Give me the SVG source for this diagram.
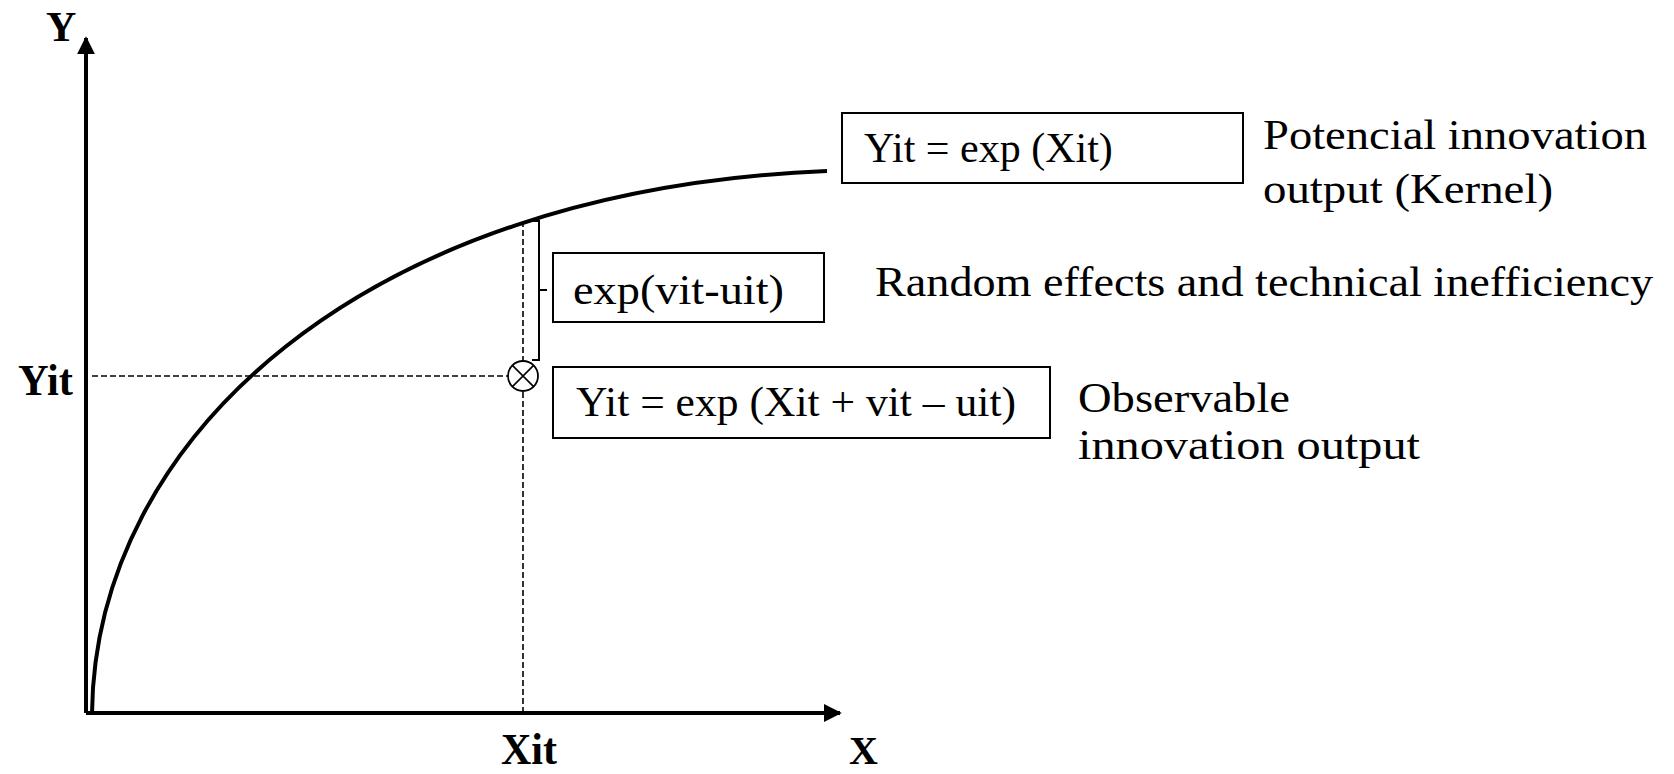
<svg xmlns="http://www.w3.org/2000/svg" width="1674" height="774" viewBox="0 0 1674 774">
<style>
.lbl{font-family:"Liberation Serif","Times New Roman",serif;font-weight:bold;fill:#000}
.txt{font-family:"Liberation Serif","Times New Roman",serif;font-size:42px;fill:#000}
.box{fill:#fff;stroke:#000;stroke-width:2}
.axis{stroke:#000;stroke-width:4;fill:none}
.dash{stroke:#000;stroke-width:1.6;stroke-dasharray:6 3;fill:none}
</style>
<defs>
<marker id="arr" viewBox="0 0 10 10" refX="9" refY="5" markerWidth="4.5" markerHeight="4.5" orient="auto" markerUnits="strokeWidth">
<path d="M0,0 L10,5 L0,10 Z" fill="#000"/>
</marker>
</defs>
<rect width="1674" height="774" fill="#fff"/>
<g id="connectors">
<line class="dash" x1="92" y1="376" x2="508" y2="376"/>
<line class="dash" x1="523" y1="221" x2="523" y2="711"/>
<line class="axis" x1="86" y1="713" x2="86" y2="38" marker-end="url(#arr)"/>
<line class="axis" x1="86" y1="713" x2="840" y2="713" marker-end="url(#arr)"/>
<path class="axis" d="M92,713 C95,440 360,190 827,171"/>
<path d="M532,221 H539 V360 H532 M539,290 H547" fill="none" stroke="#000" stroke-width="2"/>
</g>
<g id="point">
<circle cx="523" cy="376" r="15" fill="#fff" stroke="#000" stroke-width="1.8"/>
<path d="M512.4,365.4 L533.6,386.6 M533.6,365.4 L512.4,386.6" stroke="#000" stroke-width="1.6"/>
</g>
<g id="axis-labels">
<text class="lbl" x="46" y="41" font-size="42">Y</text>
<text class="lbl" x="849" y="764" font-size="40">X</text>
<text class="lbl" x="18" y="395" font-size="45" textLength="55" lengthAdjust="spacingAndGlyphs">Yit</text>
<text class="lbl" x="501" y="764" font-size="44" textLength="56" lengthAdjust="spacingAndGlyphs">Xit</text>
</g>
<g id="kernel">
<rect class="box" x="842" y="113" width="401" height="70"/>
<text class="txt" x="864" y="162">Yit = exp (Xit)</text>
<text class="txt" x="1263" y="149" textLength="384" lengthAdjust="spacingAndGlyphs">Potencial innovation</text>
<text class="txt" x="1263" y="203" textLength="290" lengthAdjust="spacingAndGlyphs">output (Kernel)</text>
</g>
<g id="random">
<rect class="box" x="553" y="253" width="271" height="69"/>
<text class="txt" x="573" y="304" textLength="211" lengthAdjust="spacingAndGlyphs">exp(vit-uit)</text>
<text class="txt" x="875" y="296" textLength="778" lengthAdjust="spacingAndGlyphs">Random effects and technical inefficiency</text>
</g>
<g id="observable">
<rect class="box" x="553" y="367" width="497" height="71"/>
<text class="txt" x="576" y="416" textLength="440" lengthAdjust="spacingAndGlyphs">Yit = exp (Xit + vit – uit)</text>
<text class="txt" x="1078" y="412" textLength="212" lengthAdjust="spacingAndGlyphs">Observable</text>
<text class="txt" x="1078" y="459" textLength="342" lengthAdjust="spacingAndGlyphs">innovation output</text>
</g>
</svg>
